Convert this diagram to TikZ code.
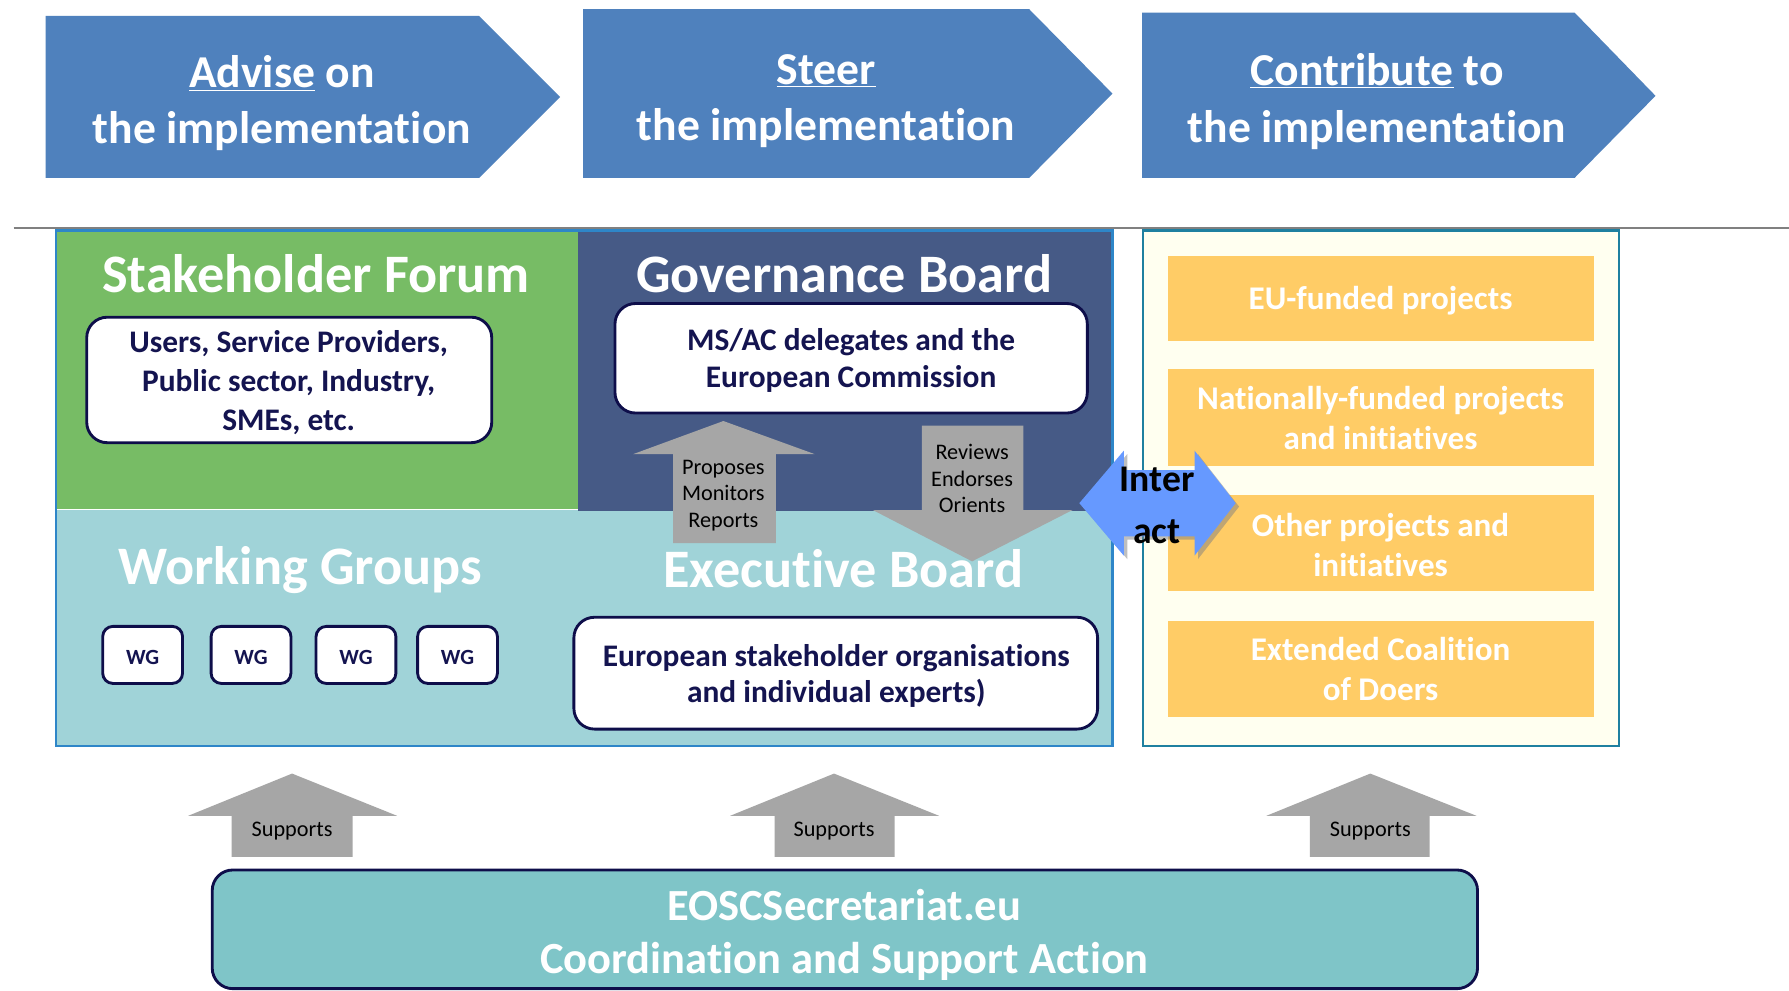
\documentclass[tikz,border=0pt]{standalone}
\usepackage{fontspec}
\setmainfont{Carlito}[Ligatures=NoCommon]
\usetikzlibrary{shadows}
\definecolor{chev}{HTML}{4F81BD}
\definecolor{sfgreen}{HTML}{77BC65}
\definecolor{gbblue}{HTML}{465A86}
\definecolor{ebteal}{HTML}{A0D3D8}
\definecolor{outline}{HTML}{2E86C8}
\definecolor{rbord}{HTML}{1F80A0}
\definecolor{cream}{HTML}{FFFFF0}
\definecolor{orangebox}{HTML}{FFCC66}
\definecolor{arrgray}{HTML}{A6A6A6}
\definecolor{navy}{HTML}{0E0E4A}
\definecolor{navytxt}{HTML}{141450}
\definecolor{eoscfill}{HTML}{7FC5C8}
\definecolor{interblue}{HTML}{6699FF}
\definecolor{hline}{HTML}{808080}
\begin{document}
\begin{tikzpicture}[x=1pt,y=-1pt,
  every node/.style={inner sep=0pt,outer sep=0pt},
  chevtxt/.style={anchor=base,text=white,font=\fontsize{40}{48}\selectfont\bfseries},
  titletxt/.style={anchor=base,text=white,font=\fontsize{47.5}{56}\selectfont\bfseries},
  boxtxt/.style={anchor=base,text=navytxt,font=\fontsize{27.5}{33}\selectfont\bfseries},
  wgtxt/.style={anchor=base,text=navytxt,font=\fontsize{19}{23}\selectfont\bfseries},
  arrtxt/.style={anchor=base,text=black,font=\fontsize{19.5}{23}\selectfont},
  orgtxt/.style={anchor=base,text=white,font=\fontsize{29}{35}\selectfont\bfseries},
  inttxt/.style={anchor=base,text=black,font=\fontsize{33}{39}\selectfont\bfseries},
  eosctxt/.style={anchor=base,text=white,font=\fontsize{39}{47}\selectfont\bfseries},
  wbox/.style={draw=navy,line width=2.5pt,fill=white,rounded corners=18pt},
  wgbox/.style={draw=navy,line width=2.5pt,fill=white,rounded corners=9pt,minimum width=70pt,minimum height=50pt},
  obox/.style={fill=orangebox,minimum width=373pt},
  grayarrow/.style={fill=arrgray},
]
\useasboundingbox[fill=white] (0,0) rectangle (1568,868.5);

% chevrons
\fill[chev] (40,14) -- (420,14) -- (491,85) -- (420,156) -- (40,156) -- cycle;
\fill[chev] (511,8) -- (902,8) -- (975,82) -- (902,156) -- (511,156) -- cycle;
\fill[chev] (1001,11) -- (1380,11) -- (1451,84) -- (1380,156) -- (1001,156) -- cycle;
\node[chevtxt] (adv1) at (247,77) {\underline{Advise} on};
\node[chevtxt] (adv2) at (247,126) {the implementation};
\node[chevtxt] (ste1) at (724,74) {\underline{Steer}};
\node[chevtxt] (ste2) at (724,123) {the implementation};
\node[chevtxt] (con1) at (1207,75) {\underline{Contribute} to};
\node[chevtxt] (con2) at (1207,125) {the implementation};

% separator line
\draw[hline,line width=2pt] (12,200) -- (1568,200);

% left big box
\fill[ebteal] (49,202) rectangle (975,654);
\fill[sfgreen] (49,202) rectangle (507,446);
\fill[gbblue] (507,202) rectangle (975,448);
\draw[white,line width=1pt] (49,446.5) -- (507,446.5);
\draw[outline,line width=2pt] (49,202) rectangle (975,654);

% right box
\draw[rbord,fill=cream,line width=2pt] (1002,202) rectangle (1419,654);

% Stakeholder forum
\node[titletxt] (sf) at (277,256) {Stakeholder Forum};
\node[wbox,minimum width=355pt,minimum height=110pt] (users) at (253.5,333) {};
\node[boxtxt] (u1) at (253,309) {Users, Service Providers,};
\node[boxtxt] (u2) at (253,343) {Public sector, Industry,};
\node[boxtxt] (u3) at (253,377) {SMEs, etc.};

% Governance board
\node[titletxt] (gb) at (740,256) {Governance Board};
\node[wbox,minimum width=414pt,minimum height=96pt] (msac) at (746,314) {};
\node[boxtxt] (m1) at (746,307) {MS/AC delegates and the};
\node[boxtxt] (m2) at (746,340) {European Commission};

% Proposes arrow (up)
\fill[grayarrow] (634,369) -- (714,398) -- (680,398) -- (680,476) -- (590,476) -- (590,398) -- (555,398) -- cycle;
\node[arrtxt] (p1) at (634,416) {Proposes};
\node[arrtxt] (p2) at (634,439) {Monitors};
\node[arrtxt] (p3) at (634,462) {Reports};

% Reviews arrow (down)
\fill[grayarrow] (808,373) -- (897,373) -- (897,447) -- (940,447) -- (852,492) -- (765,447) -- (808,447) -- cycle;
\node[arrtxt] (r1) at (852,403) {Reviews};
\node[arrtxt] (r2) at (852,426) {Endorses};
\node[arrtxt] (r3) at (852,449) {Orients};

% Working groups
\node[titletxt] (wg) at (263,512) {Working Groups};
\foreach \i/\x in {1/125,2/220,3/312,4/401}{
  \node[wgbox] (wg\i) at (\x,574) {};
  \node[wgtxt] at (\x,582) {WG};
}

% Executive board
\node[titletxt] (eb) at (739,515) {Executive Board};
\node[wbox,minimum width=459pt,minimum height=98pt] (eso) at (732.5,590) {};
\node[boxtxt] (e1) at (733,584) {European stakeholder organisations};
\node[boxtxt] (e2) at (733,616) {and individual experts)};

% orange boxes
\node[obox,minimum height=75pt] (eu) at (1210.5,261.5) {};
\node[orgtxt] at (1210,271) {EU-funded projects};
\node[obox,minimum height=85pt] (nat) at (1210.5,365.5) {};
\node[orgtxt] at (1210,359) {Nationally-funded projects};
\node[orgtxt] at (1210,394) {and initiatives};
\node[obox,minimum height=84pt] (oth) at (1210.5,476) {};
\node[orgtxt] at (1210,470) {Other projects and};
\node[orgtxt] at (1210,505) {initiatives};
\node[obox,minimum height=84pt] (ext) at (1210.5,586) {};
\node[orgtxt] at (1210,579) {Extended Coalition};
\node[orgtxt] at (1210,614) {of Doers};

% Interact arrow
\fill[interblue,drop shadow={shadow xshift=3pt,shadow yshift=-3pt,opacity=0.5}] (946,441) -- (985,395) -- (985,412) -- (1047,412) -- (1047,395) -- (1083,441) -- (1047,487) -- (1047,470) -- (985,470) -- (985,487) -- cycle;
\node[inttxt] (int1) at (1014,431) {Inter};
\node[inttxt] (int2) at (1014,476) {act};

% support arrows
\fill[grayarrow] (256,678) -- (348,715) -- (309,715) -- (309,751) -- (203,751) -- (203,715) -- (165,715) -- cycle;
\fill[grayarrow] (731,678) -- (823,715) -- (784,715) -- (784,751) -- (679,751) -- (679,715) -- (640,715) -- cycle;
\fill[grayarrow] (1201,678) -- (1294,715) -- (1253,715) -- (1253,751) -- (1148,751) -- (1148,715) -- (1110,715) -- cycle;
\node[arrtxt] (s1) at (256,733) {Supports};
\node[arrtxt] (s2) at (731,733) {Supports};
\node[arrtxt] (s3) at (1201,733) {Supports};

% EOSC box
\node[draw=navy,line width=2.5pt,fill=eoscfill,rounded corners=18pt,minimum width=1109pt,minimum height=104pt] (eosc) at (740.5,814.5) {};
\node[eosctxt] (eo1) at (740,807) {EOSCSecretariat.eu};
\node[eosctxt] (eo2) at (740,853) {Coordination and Support Action};
\end{tikzpicture}
\end{document}
